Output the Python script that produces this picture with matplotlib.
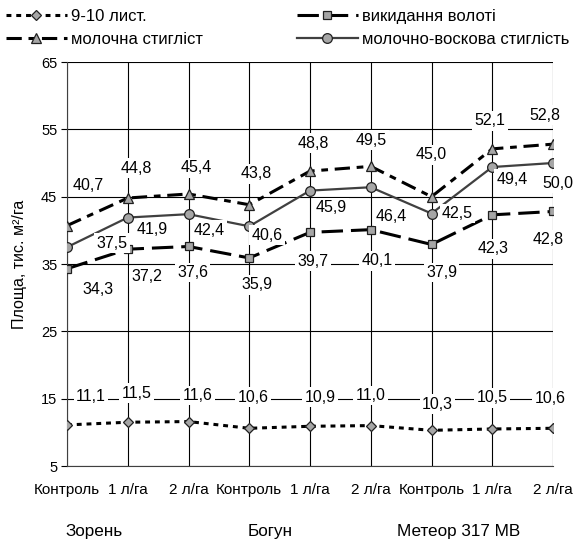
import matplotlib
matplotlib.use("Agg")
import matplotlib.pyplot as plt

plt.rcParams['font.family'] = ['Liberation Sans', 'DejaVu Sans']

categories = ["Контроль", "1 л/га", "2 л/га", "Контроль", "1 л/га", "2 л/га",
              "Контроль", "1 л/га", "2 л/га"]
groups = ["Зорень", "Богун", "Метеор 317 МВ"]
series_names = ["9-10 лист.", "молочна стигліст", "викидання волоті",
                "молочно-воскова стиглість"]
leaf_9_10 = [11.1, 11.5, 11.6, 10.6, 10.9, 11.0, 10.3, 10.5, 10.6]
panicle = [34.3, 37.2, 37.6, 35.9, 39.7, 40.1, 37.9, 42.3, 42.8]
milk = [40.7, 44.8, 45.4, 43.8, 48.8, 49.5, 45.0, 52.1, 52.8]
milk_wax = [37.5, 41.9, 42.4, 40.6, 45.9, 46.4, 42.5, 49.4, 50.0]
y_ticks = [5, 15, 25, 35, 45, 55, 65]

# label offsets in pixels (layout only)
off_leaf = [(24, 28), (9, 29), (9, 26), (4, 31), (10, 29), (0, 30), (6, 26), (0, 31), (-3, 30)]
off_panicle = [(31, -21), (19, -27), (4, -26), (8, -27), (3, -29), (6, -31), (10, -28), (1, -34), (-5, -28)]
off_milk = [(21, 40), (9, 30), (8, 26), (7, 31), (3, 28), (0, 26), (0, 42), (-2, 28), (-8, 29)]
off_wax = [(45, 4), (24, -12), (21, -16), (18, -9), (21, -17), (21, -29), (26, 0), (20, -12), (5, -20)]

W, H = 583, 543
fig = plt.figure(figsize=(W / 100, H / 100), dpi=100)
ax = fig.add_axes([67 / W, 1 - 466 / H, (553 - 67) / W, (466 - 62) / H])

x = list(range(len(categories)))
fill = "#a6a6a6"

styles = [
    dict(data=leaf_9_10, color="black", lw=2.2, dashes=(1.6, 1.6), marker="D", ms=5.5, off=off_leaf),
    dict(data=milk, color="black", lw=2.2, dashes=(5.0, 2.2, 2.2, 2.2), marker="^", ms=7.5, off=off_milk),
    dict(data=panicle, color="black", lw=2.2, dashes=(7.0, 2.6), marker="s", ms=6, off=off_panicle),
    dict(data=milk_wax, color="#404040", lw=1.6, dashes=None, marker="o", ms=7, off=off_wax),
]

handles = []
for name, st in zip(series_names, styles):
    kw = dict(color=st["color"], lw=st["lw"], marker=st["marker"], ms=st["ms"],
              mfc=fill, mec="#202020", mew=0.9, label=name, zorder=3)
    if st["dashes"] is not None:
        kw["dashes"] = st["dashes"]
    line, = ax.plot(x, st["data"], **kw)
    handles.append(line)
    for xi, yi, (dx, dy) in zip(x, st["data"], st["off"]):
        ax.annotate(f"{yi:.1f}".replace(".", ","), (xi, yi), xytext=(dx, dy),
                    textcoords="offset pixels", ha="center", va="center",
                    fontsize=11.5, color="black", zorder=5, annotation_clip=False,
                    bbox=dict(boxstyle="square,pad=0.15", fc="white", ec="none"))

ax.set_xlim(0, 8)
ax.set_ylim(5, 65)
ax.set_yticks(y_ticks)
ax.set_xticks(x)
ax.set_xticklabels(categories, fontsize=11)
ax.tick_params(axis="x", length=0, pad=12)
ax.tick_params(axis="y", length=4, width=0.8, labelsize=10.5, pad=3)
ax.grid(True, color="black", lw=0.8)
ax.set_axisbelow(True)
for s in ["top", "right"]:
    ax.spines[s].set_visible(False)
for s in ["left", "bottom"]:
    ax.spines[s].set_color("#404040")
    ax.spines[s].set_linewidth(0.8)

ax.set_ylabel("Площа, тис. м²/га", fontsize=11.5, labelpad=10)

group_x = [0.45, 3.35, 6.45]
for gx, g in zip(group_x, groups):
    ax.text(gx, -0.163, g, transform=ax.get_xaxis_transform(), ha="center",
            va="center", fontsize=12.3)

leg_kw = dict(frameon=False, fontsize=12, handlelength=3.65, handletextpad=0.25,
              labelspacing=0.45, borderpad=0, borderaxespad=0, numpoints=1)
fig.legend([handles[0], handles[1]], [series_names[0], series_names[1]],
           loc="upper left", bbox_to_anchor=(6 / W, 1 - 9 / H), **leg_kw)
fig.legend([handles[2], handles[3]], [series_names[2], series_names[3]],
           loc="upper left", bbox_to_anchor=(297 / W, 1 - 9 / H), **leg_kw)

fig.savefig("out.png", dpi=100)
